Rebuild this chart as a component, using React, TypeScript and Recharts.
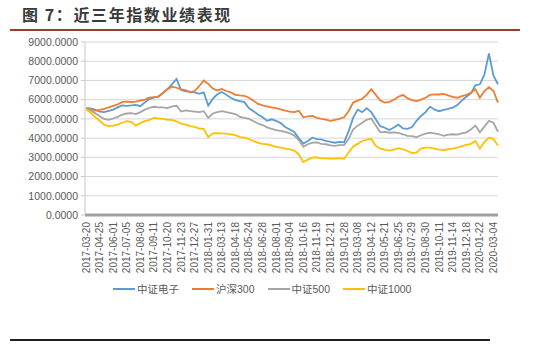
import React from "react";
import { LineChart, Line, XAxis, YAxis, CartesianGrid } from "recharts";

const dates = [
  "2017-03-20","2017-03-31","2017-04-13",
  "2017-04-25","2017-05-08","2017-05-19",
  "2017-06-01","2017-06-13","2017-06-23",
  "2017-07-05","2017-07-17","2017-07-27",
  "2017-08-08","2017-08-18","2017-08-30",
  "2017-09-11","2017-09-21","2017-10-10",
  "2017-10-20","2017-11-01","2017-11-13",
  "2017-11-23","2017-12-05","2017-12-15",
  "2017-12-27","2018-01-10","2018-01-19",
  "2018-01-31","2018-02-09","2018-02-28",
  "2018-03-13","2018-03-23","2018-04-04",
  "2018-04-18","2018-04-27","2018-05-11",
  "2018-05-24","2018-06-05","2018-06-15",
  "2018-06-28","2018-07-10","2018-07-20",
  "2018-08-01","2018-08-13","2018-08-23",
  "2018-09-04","2018-09-14","2018-09-27",
  "2018-10-16","2018-10-26","2018-11-07",
  "2018-11-19","2018-11-29","2018-12-11",
  "2018-12-21","2019-01-04","2019-01-16",
  "2019-01-28","2019-02-14","2019-02-26",
  "2019-03-08","2019-03-20","2019-04-01",
  "2019-04-12","2019-04-24","2019-05-09",
  "2019-05-21","2019-05-31","2019-06-13",
  "2019-06-25","2019-07-05","2019-07-17",
  "2019-07-29","2019-08-08","2019-08-20",
  "2019-08-30","2019-09-11","2019-09-25",
  "2019-10-11","2019-10-23","2019-11-04",
  "2019-11-14","2019-11-26","2019-12-06",
  "2019-12-18","2019-12-30","2020-01-10",
  "2020-01-22","2020-02-10","2020-02-21",
  "2020-03-04","2020-03-09",
];

const electronics = [
  5560,5540,5480, 5380,5350,5420, 5480,5600,5700, 5680,5700,5730,
  5660,5860,6030, 6100,6170,6350, 6560,6800,7080, 6500,6430,6420,
  6380,6300,6380, 5700,6040,6280, 6400,6250,6100, 5980,5920,5870,
  5550,5400,5230, 5080,4900,4980, 4900,4780,4580, 4450,4320,4000,
  3720,3850,4020, 3950,3930,3850, 3800,3760,3800, 3780,4350,5050,
  5480,5350,5560, 5350,4980,4620, 4540,4420,4550, 4700,4500,4480,
  4580,4900,5150, 5350,5640,5480, 5400,5470,5520, 5580,5720,5950,
  6150,6330,6750, 6800,7300,8400, 7250,6800,
];

const hs300 = [
  5560,5500,5430, 5470,5520,5600, 5680,5750,5880, 5900,5880,5900,
  5950,6000,6100, 6130,6150,6350, 6550,6680,6620, 6540,6500,6380,
  6450,6700,7000, 6820,6580,6480, 6560,6450,6380, 6250,6220,6200,
  6100,5950,5780, 5700,5650,5600, 5560,5500,5430, 5380,5350,5420,
  5080,5130,5150, 5050,5000,4960, 4900,4950,5000, 5080,5400,5850,
  5950,6050,6250, 6550,6250,5950, 5850,5880,6000, 6150,6250,6080,
  5980,5930,6000, 6100,6250,6280, 6270,6300,6220, 6150,6100,6180,
  6250,6350,6550, 6100,6450,6650, 6450,5850,
];

const zz500 = [
  5550,5450,5300, 5150,5000,4950, 5020,5100,5220, 5280,5300,5250,
  5350,5480,5580, 5630,5600,5600, 5560,5650,5680, 5380,5440,5400,
  5380,5350,5400, 5050,5280,5350, 5400,5350,5300, 5250,5100,5050,
  5000,4880,4760, 4680,4560,4480, 4420,4380,4320, 4250,4130,3900,
  3550,3680,3760, 3780,3700,3680, 3620,3600,3640, 3640,3950,4450,
  4650,4800,4950, 5020,4650,4300, 4320,4280,4300, 4270,4200,4120,
  4100,4050,4150, 4230,4280,4250, 4200,4120,4180, 4200,4180,4250,
  4300,4450,4650, 4300,4600,4900, 4800,4320,
];

const zz1000 = [
  5500,5330,5100, 4900,4700,4620, 4650,4700,4800, 4880,4850,4650,
  4780,4880,4950, 5050,5030,5000, 4950,4950,4870, 4750,4700,4620,
  4580,4500,4480, 4050,4250,4260, 4250,4230,4200, 4150,4050,4030,
  3950,3850,3750, 3700,3680,3620, 3550,3500,3450, 3420,3350,3150,
  2750,2880,2980, 3000,2950,2950, 2930,2940,2960, 2920,3250,3550,
  3700,3850,3920, 3950,3600,3450, 3400,3350,3400, 3480,3420,3330,
  3220,3250,3450, 3500,3500,3450, 3400,3380,3420, 3450,3500,3580,
  3650,3700,3850, 3450,3800,4020, 3950,3620,
];

const yTicks = [0, 1000, 2000, 3000, 4000, 5000, 6000, 7000, 8000, 9000];

const series = [
  { key: "electronics", name: "中证电子", color: "#5B9BD5" },
  { key: "hs300", name: "沪深300", color: "#ED7D31" },
  { key: "zz500", name: "中证500", color: "#A5A5A5" },
  { key: "zz1000", name: "中证1000", color: "#FFC000" },
];

const data = dates.map((d, i) => ({
  date: d,
  electronics: electronics[i],
  hs300: hs300[i],
  zz500: zz500[i],
  zz1000: zz1000[i],
}));

const FONT = "'Liberation Sans', Arial, 'Noto Sans CJK SC', sans-serif";

const XTick = (props: any) => {
  const { x, payload } = props;
  const yy = 222;
  return (
    <text
      x={x}
      y={yy}
      transform={`rotate(-90 ${x} ${yy})`}
      textAnchor="end"
      dominantBaseline="central"
      fontSize={10}
      fontFamily={FONT}
      fill="#595959"
    >
      {payload.value}
    </text>
  );
};

export default function App() {
  return (
    <div
      style={{
        position: "absolute",
        left: 0,
        top: 0,
        width: 554,
        height: 351,
        background: "#fff",
        overflow: "hidden",
      }}
    >
      <div
        style={{
          position: "absolute",
          left: 22,
          top: 5,
          fontFamily: "'Noto Sans CJK SC', sans-serif",
          fontWeight: 700,
          fontSize: 16,
          letterSpacing: 1.6,
          color: "#3a3a3a",
          whiteSpace: "nowrap",
          lineHeight: "18px",
        }}
      >
        图 7：近三年指数业绩表现
      </div>
      <div
        style={{
          position: "absolute",
          left: 10,
          top: 29,
          width: 510,
          height: 2,
          background: "#9B3B2B",
        }}
      />
      <div style={{ position: "absolute", left: 0, top: 0 }}>
        <LineChart
          width={554}
          height={351}
          data={data}
          margin={{ top: 42, right: 56, left: 0, bottom: 0 }}
        >
          <CartesianGrid vertical={false} stroke="#d6d6d6" strokeWidth={1} />
          <XAxis
            dataKey="date"
            interval={2}
            tick={<XTick />}
            tickLine={false}
            axisLine={{ stroke: "#a0a0a0", strokeWidth: 3 }}
            padding={{ left: 1, right: 0 }}
            height={136}
          />
          <YAxis
            domain={[0, 9000]}
            ticks={yTicks}
            interval={0}
            width={85}
            tickFormatter={(v: number) => v.toFixed(4)}
            tick={{ fontSize: 10.5, fill: "#595959", fontFamily: FONT }}
            tickSize={4}
            tickMargin={3}
            tickLine={{ stroke: "#c8c8c8" }}
            axisLine={{ stroke: "#c8c8c8" }}
            allowDataOverflow
          />
          {series.map((s) => (
            <Line
              key={s.key}
              type="linear"
              dataKey={s.key}
              name={s.name}
              stroke={s.color}
              strokeWidth={1.8}
              dot={false}
              isAnimationActive={false}
            />
          ))}
        </LineChart>
      </div>
      <div
        style={{
          position: "absolute",
          left: 113,
          top: 281,
          display: "flex",
          alignItems: "center",
          fontFamily: FONT,
          fontSize: 10.5,
          color: "#595959",
          whiteSpace: "nowrap",
        }}
      >
        {series.map((s) => (
          <div
            key={s.key}
            style={{ display: "flex", alignItems: "center", marginRight: 13 }}
          >
            <span
              style={{
                display: "inline-block",
                width: 22,
                height: 2,
                background: s.color,
                marginRight: 2,
              }}
            />
            <span>{s.name}</span>
          </div>
        ))}
      </div>
      <div
        style={{
          position: "absolute",
          left: 10,
          top: 339,
          width: 480,
          height: 2,
          background: "#2a1c1c",
        }}
      />
    </div>
  );
}
